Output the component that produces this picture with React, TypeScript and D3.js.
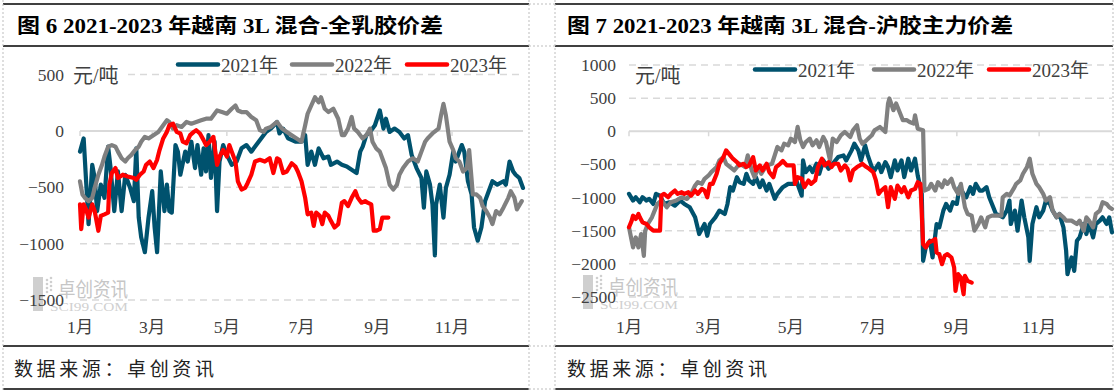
import React from "react";
import * as d3 from "d3";

type Pt = [number, number];

const seriesNames = ["2021年", "2022年", "2023年"];
const seriesColors = ["#00526E", "#808080", "#FF0000"];
const monthLabels = ["1月", "3月", "5月", "7月", "9月", "11月"];
const monthStartDays = [0, 59, 120, 181, 243, 304];
const leftTicks = [500, 0, -500, -1000, -1500];
const rightTicks = [1000, 500, 0, -500, -1000, -1500, -2000, -2500];
const leftTitle = "图 6 2021-2023 年越南 3L 混合-全乳胶价差";
const rightTitle = "图 7 2021-2023 年越南 3L 混合-沪胶主力价差";
const unitLabel = "元/吨";
const sourceText = "数据来源：卓创资讯";

// Chart 6: day-of-year, price spread (元/吨)
const left2021: Pt[] = [
  [0, -184], [3, -67], [5, -447], [7, -827], [10, -301], [12, -418], [14, -711], [17, -477], [20, -594], [23, -140],
  [25, -330], [28, -711], [31, -360], [34, -711], [37, -389], [41, -506], [44, -623], [46, -155], [48, -769], [50, -944],
  [53, -1076], [56, -769], [59, -535], [61, -857], [63, -1076], [66, -360], [69, -711], [71, -477], [73, -711], [75, -725],
  [78, -126], [80, -184], [82, -389], [86, -184], [88, -272], [91, -96], [94, -330], [96, -126], [99, -389], [101, -155],
  [103, -360], [105, -38], [107, -418], [110, -96], [112, -711], [114, -272], [117, -126], [120, -213], [124, -301], [128, -272],
  [132, -155], [136, -126], [140, -184], [144, -126], [148, -67], [152, -9], [156, 20], [161, 79], [163, -23], [166, 20],
  [170, -67], [176, -96], [181, -96], [184, -38], [186, -301], [189, -184], [192, -301], [195, -155], [199, -243], [203, -228],
  [205, -301], [210, -272], [214, -301], [218, -316], [222, -345], [226, -374], [229, -184], [231, -140], [234, -38], [237, -9],
  [241, 50], [245, 181], [248, 20], [250, 108], [253, -9], [257, 20], [261, -9], [265, -67], [268, -38], [271, -213],
  [275, -330], [279, -418], [281, -681], [283, -360], [286, -477], [288, -652], [290, -1105], [291, -652], [294, -477], [297, -769],
  [299, -506], [302, -389], [305, -184], [307, -272], [312, -126], [314, -184], [317, -447], [320, -564], [322, -857], [325, -974],
  [328, -857], [331, -623], [333, -564], [337, -447], [341, -477], [346, -447], [348, -477], [351, -272], [354, -360], [356, -389],
  [359, -418], [362, -506],
];
const left2022: Pt[] = [
  [0, -447], [2, -564], [4, -594], [7, -623], [10, -594], [12, -506], [15, -389], [18, -301], [20, -228], [23, -140],
  [26, -126], [29, -140], [31, -184], [34, -243], [37, -272], [39, -243], [42, -213], [45, -170], [48, -140], [50, -96],
  [53, -53], [56, -67], [60, -38], [64, -9], [68, 50], [71, 94], [73, 79], [76, 20], [79, 50], [83, 35],
  [87, 79], [91, 64], [95, 79], [99, 94], [103, 108], [107, 108], [112, 181], [116, 167], [120, 152], [124, 196],
  [127, 225], [129, 181], [132, 167], [136, 167], [140, 123], [144, 94], [147, 6], [150, -9], [152, 20], [156, 35],
  [161, 79], [165, 20], [169, -9], [173, -38], [177, -67], [181, -96], [184, 50], [186, 152], [189, 225], [192, 298],
  [195, 254], [197, 298], [200, 196], [203, 167], [207, 196], [211, 108], [214, -38], [216, -38], [219, 20], [222, 123],
  [224, 20], [227, -9], [231, -67], [234, -38], [237, 20], [239, -96], [242, -155], [245, -184], [248, -272], [250, -330],
  [253, -477], [256, -520], [259, -477], [261, -389], [264, -330], [268, -272], [272, -243], [276, -272], [279, -184], [282, -96],
  [284, -67], [288, -23], [293, 20], [295, 137], [297, 240], [299, 137], [302, -96], [305, -170], [307, -243], [310, -272],
  [313, -360], [316, -330], [318, -170], [321, -564], [324, -564], [327, -594], [329, -667], [332, -711], [335, -769], [337, -827],
  [340, -711], [343, -740], [346, -681], [350, -594], [352, -535], [355, -594], [357, -696], [361, -623],
];
const left2023: Pt[] = [
  [0, -652], [1, -871], [3, -652], [5, -696], [7, -769], [10, -652], [12, -711], [15, -886], [17, -754], [20, -740],
  [23, -725], [24, -477], [26, -374], [29, -330], [31, -418], [35, -389], [39, -404], [44, -418], [46, -433], [49, -389],
  [52, -360], [54, -301], [57, -272], [60, -330], [63, -257], [65, -170], [68, -67], [71, -9], [73, 50], [76, 64],
  [79, -9], [82, -23], [84, -96], [87, -111], [90, -38], [93, -9], [95, 6], [98, -23], [101, -82], [103, -126],
  [106, -96], [109, -53], [112, -301], [114, -228], [117, -170], [120, -228], [122, -126], [124, -184], [127, -272], [129, -447],
  [132, -520], [135, -506], [137, -462], [140, -389], [143, -272], [147, -257], [151, -272], [155, -243], [158, -374], [161, -243],
  [163, -257], [166, -374], [169, -360], [173, -287], [176, -316], [178, -360], [181, -447], [184, -594], [186, -740], [189, -725],
  [191, -842], [193, -725], [196, -754], [198, -827], [200, -725], [203, -754], [205, -798], [208, -857], [211, -827], [214, -637],
  [216, -623], [219, -667], [222, -594], [225, -535], [227, -594], [230, -637], [233, -623], [235, -637], [238, -652], [240, -886],
  [242, -886], [245, -871], [247, -769], [249, -769], [252, -769],
];

// Chart 7
const right2021: Pt[] = [
  [0, -944], [3, -1045], [5, -995], [8, -1071], [10, -995], [13, -1045], [15, -1020], [18, -1096], [20, -944], [23, -970],
  [26, -1096], [30, -1071], [34, -1121], [38, -1045], [41, -1096], [45, -1146], [49, -1298], [52, -1550], [56, -1399], [58, -1576],
  [60, -1399], [64, -1298], [67, -1197], [71, -1247], [73, -1096], [75, -843], [77, -894], [80, -692], [82, -768], [85, -793],
  [87, -641], [89, -742], [92, -793], [94, -692], [97, -843], [99, -742], [102, -894], [104, -793], [108, -1020], [110, -944],
  [114, -843], [118, -793], [122, -793], [124, -742], [128, -970], [129, -439], [131, -616], [134, -540], [136, -616], [139, -490],
  [141, -641], [144, -439], [148, -566], [151, -490], [155, -389], [159, -364], [161, -439], [165, -288], [167, -187], [170, -288],
  [172, -439], [175, -212], [177, -364], [180, -540], [182, -591], [185, -490], [187, -616], [190, -465], [192, -540], [194, -692],
  [197, -439], [199, -591], [202, -439], [204, -692], [207, -414], [209, -591], [212, -414], [214, -667], [217, -944], [218, -1954],
  [220, -1752], [223, -1651], [225, -1904], [228, -1399], [230, -1449], [233, -1197], [235, -1096], [238, -1197], [240, -1071], [243, -1096],
  [245, -843], [248, -944], [250, -995], [253, -843], [255, -944], [257, -793], [260, -894], [262, -894], [265, -843], [267, -995],
  [270, -1146], [272, -1247], [275, -1273], [277, -1298], [280, -1197], [282, -1045], [283, -1399], [286, -1197], [288, -1500], [291, -1045],
  [293, -1298], [296, -1601], [297, -1954], [299, -1399], [302, -1146], [304, -1298], [307, -1197], [309, -1045], [312, -1096], [314, -1197],
  [317, -1298], [319, -1247], [322, -1449], [324, -1803], [325, -2156], [328, -1904], [330, -2106], [332, -1651], [334, -1601], [337, -1399],
  [339, -1550], [341, -1399], [344, -1601], [346, -1399], [349, -1348], [351, -1298], [354, -1399], [356, -1298], [358, -1525],
];
const right2022: Pt[] = [
  [0, -1449], [2, -1651], [3, -1752], [5, -1601], [7, -1752], [9, -1550], [11, -1879], [12, -1500], [14, -1399], [17, -1298],
  [19, -1197], [21, -1096], [24, -1045], [28, -1146], [31, -1071], [35, -1045], [39, -995], [43, -1020], [46, -944], [49, -818],
  [51, -768], [54, -793], [56, -717], [59, -667], [61, -616], [65, -540], [67, -439], [70, -389], [72, -490], [75, -540],
  [78, -591], [82, -490], [86, -540], [88, -364], [91, -591], [93, -692], [96, -540], [98, -641], [102, -515], [106, -490],
  [108, -364], [110, -237], [113, -288], [115, -187], [118, -212], [120, -111], [123, -162], [125, 66], [127, -136], [129, -237],
  [131, -162], [134, -111], [136, -212], [139, -136], [141, -237], [144, -86], [146, -162], [149, -439], [151, -111], [154, -162],
  [157, -61], [160, -10], [164, -86], [166, 15], [169, 91], [171, -111], [173, -187], [176, -136], [180, -61], [182, 15],
  [186, 66], [190, -10], [192, 419], [193, 495], [196, 318], [198, 419], [201, 268], [203, 167], [206, 167], [208, 141],
  [211, 116], [212, 242], [214, 40], [218, 15], [219, -894], [222, -869], [224, -793], [227, -894], [229, -768], [232, -843],
  [234, -742], [236, -793], [239, -717], [241, -843], [244, -944], [246, -793], [249, -1146], [251, -1247], [254, -1273], [256, -1500],
  [259, -1399], [261, -1298], [264, -1449], [266, -1298], [269, -1273], [272, -1273], [276, -1273], [277, -995], [280, -944], [282, -970],
  [285, -869], [287, -793], [290, -742], [292, -641], [295, -540], [297, -414], [299, -641], [302, -793], [304, -843], [307, -944],
  [309, -1045], [312, -995], [314, -1197], [317, -1298], [319, -1247], [322, -1298], [324, -1348], [328, -1348], [332, -1399], [334, -1348],
  [337, -1500], [339, -1298], [341, -1348], [344, -1449], [346, -1247], [349, -1197], [351, -1071], [354, -1096], [356, -1146], [358, -1172],
];
const right2023: Pt[] = [
  [0, -1449], [2, -1348], [3, -1273], [5, -1323], [7, -1247], [8, -1298], [10, -1374], [13, -1399], [15, -1449], [18, -1500],
  [20, -1500], [23, -1500], [24, -970], [26, -944], [29, -995], [31, -944], [34, -894], [36, -944], [39, -919], [41, -944],
  [44, -919], [46, -970], [49, -894], [51, -944], [54, -869], [56, -894], [58, -995], [60, -793], [62, -793], [65, -641],
  [67, -490], [70, -389], [72, -288], [75, -364], [77, -414], [80, -465], [82, -515], [85, -490], [87, -540], [89, -515],
  [92, -389], [94, -591], [97, -515], [99, -591], [102, -490], [104, -616], [107, -692], [109, -540], [112, -490], [114, -449],
  [117, -515], [119, -515], [122, -515], [123, -793], [125, -692], [128, -717], [130, -843], [133, -742], [135, -793], [138, -742],
  [140, -540], [143, -414], [145, -515], [148, -465], [150, -540], [152, -490], [155, -490], [157, -591], [160, -515], [162, -566],
  [164, -742], [166, -591], [169, -540], [171, -515], [173, -490], [176, -540], [178, -566], [181, -616], [183, -742], [185, -944],
  [187, -894], [190, -843], [192, -1146], [194, -843], [197, -1020], [199, -818], [202, -919], [204, -843], [207, -995], [209, -894],
  [212, -869], [214, -768], [216, -793], [218, -1702], [220, -1752], [222, -1677], [225, -1651], [227, -1626], [228, -1828], [230, -1853],
  [232, -2005], [234, -1879], [236, -1853], [239, -1904], [241, -2055], [242, -2409], [244, -2156], [246, -2207], [248, -2459], [249, -2182],
  [251, -2257], [254, -2283],
];

const SERIF = "'Liberation Serif', 'Noto Sans CJK SC', serif";
const CJK = "'Noto Sans CJK SC', 'Liberation Serif', sans-serif";

type Cfg = {
  bx0: number; bx1: number; px0: number; px1: number; pyTop: number; pyBottom: number;
  yDomain: [number, number]; xMax: number; ticks: number[]; labelX: number;
  title: string; titleX: number; titleW: number; footX: number;
  unitX: number; unitY: number; unitBg: boolean;
  legendY: number; legendXs: number[];
  wmX: number; wmY: number;
};

const leftCfg: Cfg = {
  bx0: 3, bx1: 529, px0: 80, px1: 523, pyTop: 74.5, pyBottom: 300,
  yDomain: [-1500, 500], xMax: 362, ticks: leftTicks, labelX: 64,
  title: leftTitle, titleX: 17, titleW: 426, footX: 14,
  unitX: 73, unitY: 76, unitBg: true,
  legendY: 64.5, legendXs: [176, 290, 405],
  wmX: 33, wmY: 277,
};
const rightCfg: Cfg = {
  bx0: 555, bx1: 1113, px0: 629, px1: 1112, pyTop: 65, pyBottom: 297,
  yDomain: [-2500, 1000], xMax: 358, ticks: rightTicks, labelX: 616,
  title: rightTitle, titleX: 567, titleW: 446, footX: 567,
  unitX: 635, unitY: 76, unitBg: false,
  legendY: 69.5, legendXs: [753, 872, 987],
  wmX: 583, wmY: 275,
};

function Chart({ cfg, series }: { cfg: Cfg; series: Pt[][] }) {
  const x = d3.scaleLinear().domain([0, cfg.xMax]).range([cfg.px0, cfg.px1]);
  const y = d3.scaleLinear().domain(cfg.yDomain).range([cfg.pyBottom, cfg.pyTop]);
  const line = d3.line<Pt>().x((d) => x(d[0])).y((d) => y(d[1]));
  const fmt = d3.format("d");
  const y0 = y(0);
  return (
    <g>
      {/* frame */}
      {[4, 46, 346, 389].map((yy) => (
        <line key={yy} x1={cfg.bx0} x2={cfg.bx1} y1={yy} y2={yy} stroke="#000" strokeWidth={1.5} />
      ))}
      {[cfg.bx0, cfg.bx1].map((xx) => (
        <line key={xx} x1={xx} x2={xx} y1={0} y2={392} stroke="#BDBDBD" strokeWidth={1} strokeDasharray="2,2" />
      ))}
      <text x={cfg.titleX} y={26} fontFamily={SERIF} fontWeight="bold" fontSize={20} fill="#000"
        dominantBaseline="central" textLength={cfg.titleW} lengthAdjust="spacingAndGlyphs">{cfg.title}</text>
      <text x={cfg.footX} y={367} fontFamily={CJK} fontSize={19} fill="#222"
        dominantBaseline="central" textLength={200} lengthAdjust="spacing">{sourceText}</text>

      {/* watermark */}
      <g>
        <rect x={cfg.wmX} y={cfg.wmY} width={10} height={34} fill="#CFCFCF" />
        {[0, 1, 2, 3].map((i) => (
          <g key={i}>
            <circle cx={cfg.wmX + 14} cy={cfg.wmY + 3 + i * 4} r={1.3} fill="#CFCFCF" />
            <circle cx={cfg.wmX + 18} cy={cfg.wmY + 1 + i * 4} r={1.3} fill="#CFCFCF" />
          </g>
        ))}
        <text x={cfg.wmX + 25} y={cfg.wmY + 11} fontFamily={CJK} fontSize={20} fill="#C6C6C6"
          dominantBaseline="central" textLength={70} lengthAdjust="spacingAndGlyphs">卓创资讯</text>
        <text x={cfg.wmX + 17} y={cfg.wmY + 29} fontFamily={SERIF} fontSize={13} fill="#D0D0D0"
          dominantBaseline="central" textLength={78} lengthAdjust="spacingAndGlyphs">SCI99.COM</text>
      </g>

      {/* grid */}
      {cfg.ticks.filter((t) => t !== 0).map((t) => (
        <line key={t} x1={cfg.px0} x2={cfg.px1} y1={y(t)} y2={y(t)} stroke="#D9D9D9" strokeWidth={1.5} strokeDasharray="7,5" />
      ))}
      <line x1={cfg.px0} x2={cfg.px1} y1={y0} y2={y0} stroke="#D9D9D9" strokeWidth={2} />
      {monthStartDays.map((d) => (
        <line key={d} x1={x(d)} x2={x(d)} y1={y0} y2={y0 + 5} stroke="#D9D9D9" strokeWidth={1.5} />
      ))}

      {/* y labels */}
      {cfg.ticks.map((t) => (
        <text key={t} x={cfg.labelX} y={y(t)} textAnchor="end" dominantBaseline="central"
          fontFamily={SERIF} fontSize={17.5} fill="#404040">{fmt(t)}</text>
      ))}
      {/* x labels */}
      {monthStartDays.map((d, i) => (
        <text key={d} x={x(d)} y={327} textAnchor="middle" dominantBaseline="central"
          fontFamily={SERIF} fontSize={17.5} fill="#404040">{monthLabels[i]}</text>
      ))}

      {/* unit */}
      {cfg.unitBg && <rect x={cfg.unitX - 5} y={cfg.unitY - 10} width={58} height={20} fill="#fff" />}
      <text x={cfg.unitX} y={cfg.unitY} dominantBaseline="central" fontFamily={SERIF} fontSize={20}
        fill="#404040">{unitLabel}</text>

      {/* series */}
      {series.map((s, i) => (
        <path key={i} d={line(s) || ""} fill="none" stroke={seriesColors[i]} strokeWidth={4.2}
          strokeLinejoin="round" strokeLinecap="round" />
      ))}

      {/* legend */}
      {seriesNames.map((n, i) => (
        <g key={n}>
          <line x1={cfg.legendXs[i] + 2} x2={cfg.legendXs[i] + 42} y1={cfg.legendY} y2={cfg.legendY}
            stroke={seriesColors[i]} strokeWidth={4.5} strokeLinecap="round" />
          <text x={cfg.legendXs[i] + 45} y={cfg.legendY + 1} dominantBaseline="central" fontFamily={SERIF}
            fontSize={19} fill="#404040">{n}</text>
        </g>
      ))}
    </g>
  );
}

export default function App() {
  return (
    <svg width={1117} height={392} style={{ position: "absolute", left: 0, top: 0, background: "#fff" }}>
      <rect x={0} y={0} width={1117} height={392} fill="#fff" />
      {[4, 46, 346, 389].map((yy) => (
        <line key={yy} x1={529} x2={555} y1={yy} y2={yy} stroke="#BDBDBD" strokeWidth={1} strokeDasharray="2,2" />
      ))}
      <Chart cfg={leftCfg} series={[left2021, left2022, left2023]} />
      <Chart cfg={rightCfg} series={[right2021, right2022, right2023]} />
    </svg>
  );
}
